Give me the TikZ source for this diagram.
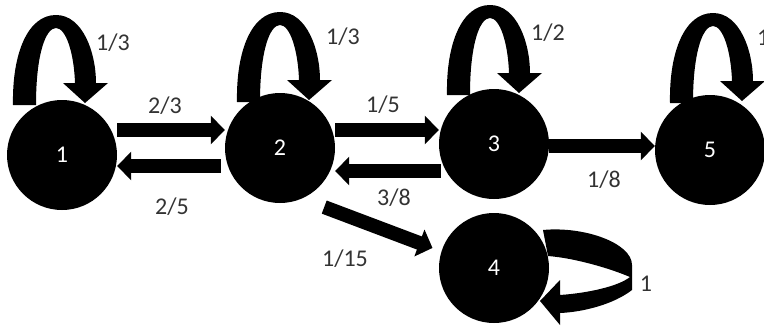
\documentclass[tikz,border=0pt]{standalone}
\usepackage{fontspec}
\setmainfont{Carlito}
\usetikzlibrary{arrows.meta,calc}
\tikzset{
  state/.style={circle, fill=black, minimum size=110pt, inner sep=0pt, text=white, font=\fontsize{24}{28}\selectfont},
  blockarrow/.style={line width=14pt, -{Triangle[length=14pt,width=28pt]}},
  lbl/.style={text=black!80, font=\fontsize{24}{28}\selectfont, inner sep=0pt},
  loopfill/.style={fill=black}
}
\newcommand\myselfloop[2]{%
  \fill[loopfill, shift={(#1)}, shift={#2}]
    (-45,-48) .. controls (-46,-100) and (-30,-138) .. (-2,-138)
    .. controls (25,-138) and (38,-100) .. (38,-70)
    -- (50,-70) -- (27,-50) -- (5,-70) -- (17,-70)
    .. controls (16,-100) and (8,-125) .. (-2,-125)
    .. controls (-12,-125) and (-22,-100) .. (-22,-48) -- cycle;}
\begin{document}
\begin{tikzpicture}[x=1pt,y=-1pt]
\useasboundingbox (0,0) rectangle (764,327);
% self loops (drawn below the states)
\myselfloop{62,155}{(-4,-2)}
\myselfloop{280,148}{(2,2)}
\myselfloop{494,144}{(-2,-1)}
\myselfloop{710,150}{(5,1)}
\fill[loopfill, shift={(494,268)}]
  (49,-38) .. controls (90,-42) and (138,-25) .. (138,-3) -- (138,22)
  .. controls (120,36) and (90,44) .. (66,45) -- (66,57) -- (46,33) -- (66,12) -- (66,27)
  .. controls (95,25) and (125,18) .. (136,9)
  .. controls (115,0) and (80,-10) .. (54,-12) -- cycle;
% states
\node[state] (n1) at (62,155) {1};
\node[state] (n2) at (280,148) {2};
\node[state] (n3) at (494,144) {3};
\node[state] (n4) at (494,268) {4};
\node[state] (n5) at (710,150) {5};
% transitions
\draw[blockarrow] ([yshift=25pt]n1.east) -- ([yshift=25pt]n1.east -| n2.west);
\draw[blockarrow] ([yshift=-18pt,xshift=-4pt]n2.west) -- ([yshift=-18pt]n2.west -| n1.east);
\draw[blockarrow] ([yshift=18pt]n2.east) -- ([yshift=18pt]n2.east -| n3.west);
\draw[blockarrow] ([yshift=-27pt,xshift=2pt]n3.west) -- ([yshift=-27pt]n3.west -| n2.east);
\draw[blockarrow] ([yshift=-2pt]n3.east) -- ([yshift=-2pt]n3.east -| n5.west);
\draw[blockarrow] ([shift={(11,15)}]n2.-53) -- ([shift={(-9,-3)}]n4.162);
% labels
\node[lbl] at (113,43) {1/3};
\node[lbl] at (165,106) {2/3};
\node[lbl] at (172,207) {2/5};
\node[lbl] at (343,37) {1/3};
\node[lbl] at (383,105) {1/5};
\node[lbl] at (394,198) {3/8};
\node[lbl] at (345,259) {1/15};
\node[lbl] at (548,33) {1/2};
\node[lbl] at (604,180) {1/8};
\node[lbl, anchor=west] at (757,38) {1};
\node[lbl] at (646,284) {1};
\end{tikzpicture}
\end{document}
